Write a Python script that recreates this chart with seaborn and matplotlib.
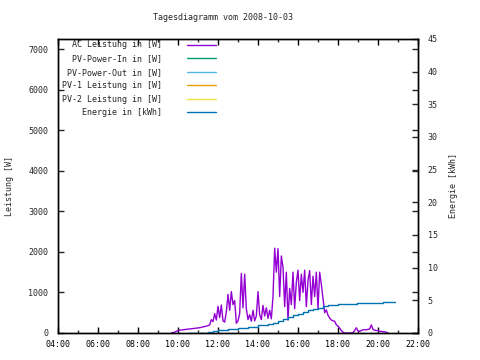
import pandas as pd
import seaborn as sns
from matplotlib import pyplot as plt
from matplotlib.ticker import MultipleLocator, FuncFormatter

title = 'Tagesdiagramm vom 2008-10-03'

# AC power in W, one sample every 5 minutes starting at 09:40
ac_start = '2008-10-03 09:40'
ac_watt = [
    0, 10, 20, 40,
    60, 70, 75, 80, 85, 90, 95, 100, 105, 110, 115, 120,
    125, 130, 140, 150, 160, 170, 180, 200, 330, 280, 480, 320,
    660, 380, 690, 300, 270, 520, 950, 560, 1020, 700, 800, 240,
    300, 480, 1470, 620, 1450, 600, 330, 450, 290, 560, 300, 420,
    1020, 450, 330, 680, 420, 620, 360, 560, 350, 900, 2090, 1500,
    2080, 900, 1900, 1620, 650, 1500, 320, 1100, 700, 1500, 600, 1250,
    1550, 800, 1450, 1000, 1550, 650, 1300, 1540, 700, 1400, 900, 1500,
    600, 1500, 1200, 850, 500, 570, 440, 370, 320, 300, 290, 200,
    170, 120, 60, 20, 0, 0, 0, 0, 0, 10, 60, 130,
    50, 40, 60, 80, 80, 80, 90, 100, 200, 90, 70, 60,
    60, 40, 40, 30, 30, 20, 0,
]

# cumulated energy in kWh
energy_time = ['10:33', '11:00', '11:30', '11:45', '12:00', '12:30', '13:00', '13:30',
               '14:00', '14:30', '14:45', '15:00', '15:15', '15:30', '15:45', '16:00',
               '16:15', '16:30', '16:45', '17:00', '17:15', '17:30', '17:45', '18:00',
               '18:30', '18:56', '19:30', '20:15', '20:51']
energy_kwh = [0.0, 0.05, 0.2, 0.3, 0.4, 0.55, 0.77, 0.95,
              1.2, 1.45, 1.6, 1.9, 2.2, 2.5, 2.7, 2.95,
              3.2, 3.45, 3.65, 3.9, 4.1, 4.3, 4.35, 4.38,
              4.4, 4.55, 4.6, 4.75, 4.75]

labels = ['AC Leistung in [W]', 'PV-Power-In in [W]', 'PV-Power-Out in [W]',
          'PV-1 Leistung in [W]', 'PV-2 Leistung in [W]', 'Energie in [kWh]']
colors = ['#9400D3', '#009E73', '#56B4E9', '#E69F00', '#F0E442', '#0072B2']

FS = 6
sns.set_theme(style='ticks', rc={'xtick.labelsize': FS, 'ytick.labelsize': FS,
                                 'axes.labelsize': FS, 'legend.fontsize': FS,
                                 'font.size': FS})
plt.rcParams['font.family'] = ['DejaVu Sans Mono']

t = pd.date_range(ac_start, periods=len(ac_watt), freq='5min')
ac = pd.DataFrame({'hour': t.hour + t.minute / 60, 'watt': ac_watt})
et = pd.to_datetime(energy_time, format='%H:%M')
en = pd.DataFrame({'hour': et.hour + et.minute / 60, 'kwh': energy_kwh})

fig, ax = plt.subplots(figsize=(4.8, 3.6), dpi=100)
fig.subplots_adjust(left=58 / 480, right=418 / 480, bottom=27 / 360, top=321 / 360)
ax2 = ax.twinx()

sns.lineplot(data=ac, x='hour', y='watt', ax=ax, color=colors[0], lw=1, label=labels[0])
for lab, col in zip(labels[1:5], colors[1:5]):
    ax.plot([], [], color=col, lw=1, label=lab)
sns.lineplot(data=en, x='hour', y='kwh', ax=ax2, color=colors[5], lw=1,
             drawstyle='steps-post', label=labels[5])

h1, l1 = ax.get_legend_handles_labels()
h2, l2 = ax2.get_legend_handles_labels()
for a in (ax, ax2):
    if a.get_legend():
        a.get_legend().remove()
width = max(len(s) for s in labels)
ax2.legend(h1 + h2, [s.rjust(width) for s in l1 + l2], loc='upper left',
           bbox_to_anchor=(0.012, 0.995), frameon=False, markerfirst=False,
           handlelength=3.4, handletextpad=3, labelspacing=0.55,
           borderpad=0, borderaxespad=0, fontsize=FS)

ax.set_xlim(4, 22)
ax.set_ylim(0, 7250)
ax2.set_ylim(0, 45)
ax.xaxis.set_major_locator(MultipleLocator(2))
ax.xaxis.set_minor_locator(MultipleLocator(1))
ax.xaxis.set_major_formatter(FuncFormatter(lambda v, p: f'{int(v):02d}:00'))
ax.yaxis.set_major_locator(MultipleLocator(1000))
ax2.yaxis.set_major_locator(MultipleLocator(5))

ax.tick_params(axis='x', which='major', direction='in', length=4, width=1,
               top=True, pad=5, colors='black', labelsize=FS)
ax.tick_params(axis='x', which='minor', direction='in', length=2, width=1, top=True)
ax.tick_params(axis='y', direction='in', length=4, width=1, right=True, pad=7,
               labelsize=FS)
ax2.tick_params(axis='y', direction='in', length=4, width=1, pad=7, labelsize=FS)

ax.set_xlabel('')
ax.set_ylabel('Leistung [W]', fontsize=FS)
ax2.set_ylabel('Energie [kWh]', fontsize=FS)
ax.yaxis.set_label_coords(-0.122, 0.5)
ax2.yaxis.set_label_coords(1.086, 0.5)

for a in (ax, ax2):
    for s in a.spines.values():
        s.set_visible(True)
        s.set_color('black')
        s.set_linewidth(1)

fig.suptitle(title, x=223 / 480, y=1 - 18 / 360, va='center', fontsize=FS)

fig.savefig('out.png', dpi=100)
